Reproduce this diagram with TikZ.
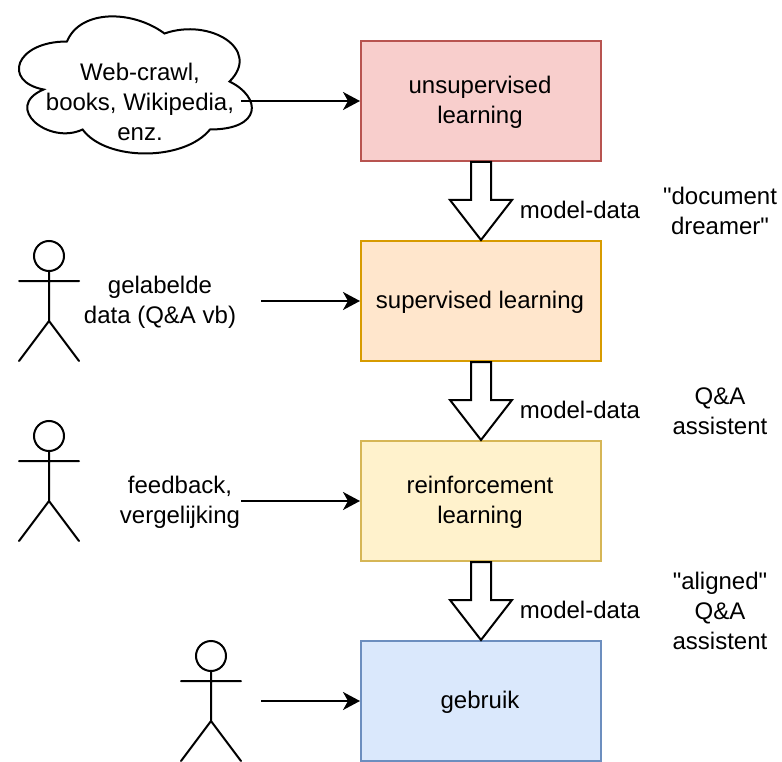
\documentclass[tikz,border=0pt]{standalone}
\usepackage{fontspec}
\setmainfont[Ligatures=TeXOff]{Liberation Sans}
\usetikzlibrary{arrows.meta}
\definecolor{redfill}{HTML}{F8CECC}\definecolor{redline}{HTML}{B85450}
\definecolor{orangefill}{HTML}{FFE6CC}\definecolor{orangeline}{HTML}{D79B00}
\definecolor{yellowfill}{HTML}{FFF2CC}\definecolor{yellowline}{HTML}{D6B656}
\definecolor{bluefill}{HTML}{DAE8FC}\definecolor{blueline}{HTML}{6C8EBF}
\tikzset{
  stagebox/.style={draw=#1line,fill=#1fill,line width=2pt,minimum width=240pt,minimum height=120pt,inner sep=0pt,anchor=north west},
  lbl/.style={inner sep=0pt,align=center,text=black},
  stagetext/.style={lbl,xshift=-1pt,yshift=-1pt},
  flow/.style={-{Stealth[length=17pt,width=18pt,inset=5pt]},line width=2pt},
  figure line/.style={line width=2pt,line cap=round},
}
\newcommand{\stick}[2]{%
  \begin{scope}[shift={(#1,#2)}]
    \draw[figure line] (0,15) circle (15);
    \draw[figure line] (0,30) -- (0,80) (-30,40) -- (30,40) (-30,120) -- (0,80) -- (30,120);
  \end{scope}}
\begin{document}
\begin{tikzpicture}[x=1pt,y=-1pt,font=\fontsize{24}{30}\selectfont]
\useasboundingbox (0,0) rectangle (782,762);
% cloud
\begin{scope}[shift={(2,1.5)},x=260pt,y=-160pt]
\draw[line width=2pt,fill=white] (.25,.25) .. controls (.05,.25) and (0,.5) .. (.16,.55)
 .. controls (0,.66) and (.18,.9) .. (.31,.8)
 .. controls (.4,1) and (.7,1) .. (.8,.8)
 .. controls (1,.8) and (1,.6) .. (.875,.5)
 .. controls (1,.3) and (.8,.1) .. (.625,.2)
 .. controls (.5,.05) and (.3,.05) .. (.25,.25) -- cycle;
\end{scope}
\node[lbl] (cloudtext) at (140,101.5) {Web-crawl,\\books, Wikipedia,\\enz.};
% stages
\node[stagebox=red] (s1) at (360,40) {};
\node[stagebox=orange] (s2) at (360,240) {};
\node[stagebox=yellow] (s3) at (360,440) {};
\node[stagebox=blue] (s4) at (360,640) {};
\node[stagetext] (t1) at (s1) {unsupervised\\learning};
\node[stagetext] (t2) at (s2) {supervised learning};
\node[stagetext] (t3) at (s3) {reinforcement\\learning};
\node[stagetext] (t4) at (s4) {gebruik};
% block arrows
\foreach \a/\b in {s1/s2,s2/s3,s3/s4}{
  \draw[line width=2pt,fill=white,line join=miter] ([xshift=-10pt]\a.south) -- ([xshift=10pt]\a.south)
    -- ([xshift=10pt,yshift=40pt]\b.north) -- ([xshift=31pt,yshift=40pt]\b.north)
    -- (\b.north) -- ([xshift=-31pt,yshift=40pt]\b.north) -- ([xshift=-10pt,yshift=40pt]\b.north) -- cycle;
}
\node[lbl] (m1) at (580,210) {model-data};
\node[lbl] (m2) at (580,410) {model-data};
\node[lbl] (m3) at (580,610) {model-data};
\node[lbl] (r1) at (720,211) {"document\\dreamer"};
\node[lbl] (r2) at (720,411) {Q\&A\\assistent};
\node[lbl] (r3) at (720,610.5) {"aligned"\\Q\&A\\assistent};
% actors
\stick{49}{241}
\stick{49}{421}
\stick{211}{641}
\node[lbl] (l1) at (160,302.5) {gelabelde\\data (Q\&A vb)};
\node[lbl] (l2) at (180,502.5) {feedback,\\vergelijking};
% inflow arrows
\coordinate (c1) at (241,101);
\coordinate (c2) at (261,301);
\coordinate (c3) at (241,501);
\coordinate (c4) at (261,701);
\draw[flow] (c1) -- (c1 -| s1.west);
\draw[flow] (c2) -- (c2 -| s2.west);
\draw[flow] (c3) -- (c3 -| s3.west);
\draw[flow] (c4) -- (c4 -| s4.west);
\end{tikzpicture}
\end{document}
